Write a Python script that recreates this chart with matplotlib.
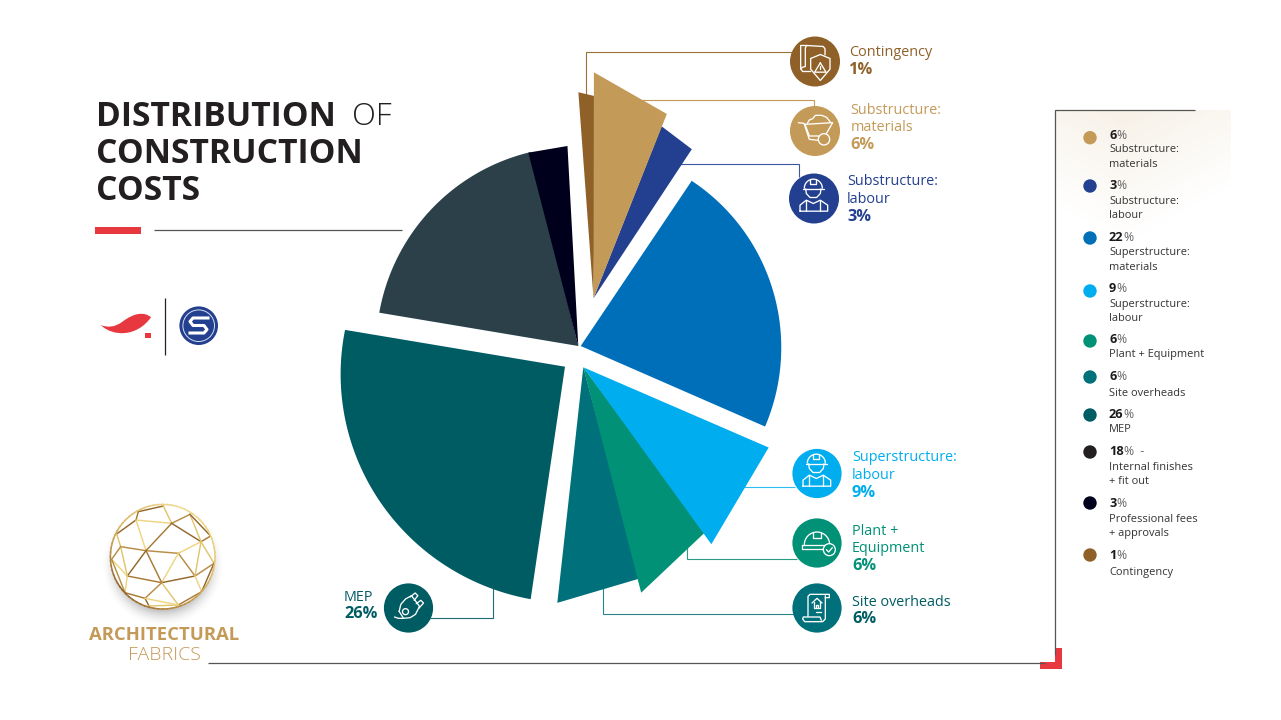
import numpy as np
import matplotlib
matplotlib.use("Agg")
import matplotlib.pyplot as plt
from matplotlib.patches import Circle, Polygon, PathPatch, Rectangle
from matplotlib.path import Path

plt.rcParams['font.family'] = ['Open Sans', 'DejaVu Sans']

# ---- data -------------------------------------------------------------
categories = ["Substructure: materials", "Substructure: labour", "Superstructure: materials",
              "Superstructure: labour", "Plant + Equipment", "Site overheads", "MEP",
              "Internal finishes + fit out", "Professional fees + approvals", "Contingency"]
shares = [6, 3, 22, 9, 6, 6, 26, 18, 3, 1]
legend_names = ["Substructure:\nmaterials", "Substructure:\nlabour", "Superstructure:\nmaterials",
                "Superstructure:\nlabour", "Plant + Equipment", "Site overheads", "MEP",
                "Internal finishes\n+ fit out", "Professional fees\n+ approvals", "Contingency"]

# ---- slice styling and geometry -----------------------------------------
slice_colors = ["#c49a58", "#233f8f", "#006fb9", "#00adef", "#009176", "#00707a",
                "#005c63", "#2b4049", "#00001c", "#8f6128"]
legend_colors = slice_colors[:7] + ["#231f20"] + slice_colors[8:]
apex_x = [593.5, 593.5, 580.7, 583.3, 583.3, 583.3, 565.0, 578.3, 578.3, 593.5]
apex_y = [298.3, 298.3, 346.0, 367.3, 367.3, 367.3, 366.7, 346.0, 346.0, 298.3]
r_start = [226, 185, 199, 202, 205, 218.6, 235, 201.8, 199.7, 206.6]
r_end = [198.4, 178.6, 201.2, 218.4, 232.7, 237, 223, 199.7, 200.3, 202]
nudge_start = [0.1, 0.0, 1.5, 1.8, -0.6, -0.6, 1.2, -1.3, -0.1, -0.6]
nudge_end = [0.1, 1.0, 2.0, 0.1, 0.0, -0.9, -1.3, 0.6, 0.5, 0.6]
flat_rim = [True, True, False, True, True, True, False, False, True, True]
draw_order = [6, 7, 8, 2, 5, 4, 3, 9, 1, 0]

GOLD = "#c49a58"
RED = "#e8383f"
RULE = "#555555"

fig = plt.figure(figsize=(12.81, 7.2), dpi=100, facecolor="white")
ax = fig.add_axes([0, 0, 1, 1])
ax.set_xlim(0, 1281)
ax.set_ylim(720, 0)
ax.axis("off")


def line(xs, ys, color=RULE, lw=0.8, z=2):
    ax.plot(xs, ys, color=color, lw=lw, zorder=z, solid_capstyle="butt", solid_joinstyle="miter")


# ---- soft panel behind the legend ---------------------------------------
yy, xx = np.mgrid[0:1:140j, 0:1:176j]
fade = np.clip(1 - yy * 1.05 - np.abs(xx - 0.4) * 0.7, 0, 1)
panel = np.zeros(fade.shape + (4,))
panel[..., :3] = matplotlib.colors.to_rgb("#f7f1e7")
panel[..., 3] = fade
ax.imshow(panel, extent=(1055, 1231, 250, 110), aspect="auto", zorder=0, interpolation="bilinear")
ax.set_xlim(0, 1281)
ax.set_ylim(720, 0)

# ---- connector lines, underneath the slices ------------------------------
line([586.3, 586.3, 792], [95, 51.5, 51.5], "#9c7138")
line([640, 814, 814], [99.7, 99.7, 108], GOLD)
line([680, 798.5, 798.5], [163.7, 163.7, 177], "#3d57a3")
line([740, 795], [486.7, 486.7], "#30bdf2")
line([686.7, 686.7, 797], [540, 559.3, 559.3], "#2a9c86")
line([603.3, 603.3, 795], [585, 613.7, 613.7], "#2a8289")
line([492.7, 492.7, 430], [585, 618.3, 618.3], "#1c6c72")

# ---- pie slices ------------------------------------------------------------
edges = np.concatenate([[0], np.cumsum(shares)]) * 3.6
for i in draw_order:
    a0, a1 = edges[i] + nudge_start[i], edges[i + 1] + nudge_end[i]
    steps = 2 if flat_rim[i] else 80
    th = np.radians(np.linspace(a0, a1, steps))
    rr = np.linspace(r_start[i], r_end[i], steps)
    xs = apex_x[i] + rr * np.sin(th)
    ys = apex_y[i] - rr * np.cos(th)
    ax.add_patch(Polygon(np.column_stack([np.r_[apex_x[i], xs], np.r_[apex_y[i], ys]]),
                         closed=True, fc=slice_colors[i], ec="none", zorder=3))

# ---- title block ------------------------------------------------------------
ink = "#231f20"
ax.text(96, 117, "DISTRIBUTION", fontsize=24.2, fontweight="bold", color=ink, va="center", ha="left")
ax.text(352, 117, "OF", fontsize=22.4, fontweight="light", color=ink, va="center", ha="left")
ax.text(96, 154, "CONSTRUCTION", fontsize=24.2, fontweight="bold", color=ink, va="center", ha="left")
ax.text(96, 191, "COSTS", fontsize=24.2, fontweight="bold", color=ink, va="center", ha="left")
ax.add_patch(Rectangle((94.5, 227.3), 46, 6.7, fc=RED, ec="none"))
line([154, 402], [229.7, 229.7], RULE, 0.9)

# ---- small marks under the title ---------------------------------------------
swoosh = Path([(100.7, 325), (113, 337), (137, 337), (151, 317.3),
               (145, 312), (135, 312), (122, 322), (115, 327), (108, 328), (100.7, 325)],
              [Path.MOVETO, Path.CURVE4, Path.CURVE4, Path.CURVE4,
               Path.CURVE4, Path.CURVE4, Path.CURVE4, Path.CURVE4, Path.CURVE4, Path.CURVE4])
ax.add_patch(PathPatch(swoosh, fc=RED, ec="none"))
ax.add_patch(Rectangle((145.3, 333.3), 5.7, 5, fc=RED, ec="none"))
line([165.3, 165.3], [298, 354.6], "#222222", 0.9)
ax.add_patch(Circle((198.7, 325.7), 19.3, fc="#233f8f", ec="none"))
ax.add_patch(Circle((198.7, 325.7), 15.8, fc="none", ec="#d8def0", lw=0.7))
ax.plot([208, 193, 190, 193, 204, 207, 204, 190],
        [318, 318, 321.5, 325.5, 325.5, 329.5, 333, 333],
        color="white", lw=2.2, solid_joinstyle="round", zorder=4)

# ---- faceted gold sphere --------------------------------------------------------
sx, sy, sr = 162.7, 556.7, 52.3
gy, gx = np.mgrid[-1:1:140j, -1:1:140j]
dist = np.hypot(gx, gy)
halo = np.zeros(dist.shape + (4,))
halo[..., :3] = 0.3
halo[..., 3] = np.clip((1 - dist) / 0.3, 0, 1) ** 1.8 * 0.42
ax.imshow(halo, extent=(sx - 62, sx + 62, sy + 70, sy - 54), aspect="auto", zorder=1, interpolation="bilinear")
ax.set_xlim(0, 1281)
ax.set_ylim(720, 0)
disc = Circle((sx, sy), sr, fc="white", ec="none", zorder=2)
ax.add_patch(disc)
v = dict(A=(205, 695), B=(280, 678), C=(360, 703), D=(305, 730), E=(198, 720), F=(140, 762),
         G=(152, 800), H=(228, 812), I=(325, 820), J=(393, 785), K=(422, 768), L=(432, 850),
         M=(375, 888), N=(275, 908), O=(172, 888), P=(125, 838), Q=(165, 938), R=(225, 955),
         S=(237, 978), T=(325, 975), U=(395, 935))
facets = ["AB", "BD", "DC", "ED", "AE", "EF", "FG", "GH", "HE", "HD", "DJ", "CJ", "HI", "IJ",
          "JK", "KC", "JL", "IM", "IN", "HN", "HO", "GO", "GP", "PO", "ON", "NM", "MJ", "ML", "MU",
          "UT", "UL", "NT", "NR", "OQ", "QR", "RS", "ST", "QP", "RT"]
golds = ["#94682c", "#e3c56f", "#b98d45", "#eed582", "#a87a35"]
for k, pair in enumerate(facets):
    (x0, y0), (x1, y1) = v[pair[0]], v[pair[1]]
    seg, = ax.plot([70 + x0 / 3, 70 + x1 / 3], [280 + y0 / 3, 280 + y1 / 3],
                   color=golds[k % len(golds)], lw=1.05, zorder=2.2)
    seg.set_clip_path(disc)
rim_colors = matplotlib.colors.LinearSegmentedColormap.from_list("rim", ["#e8cc78", "#b98d45", "#8f6128", "#d9b866", "#f0dc94", "#e8cc78"])
th = np.linspace(0, 2 * np.pi, 73)
for k in range(72):
    ax.plot(sx + sr * np.cos(th[k:k + 2]), sy + sr * np.sin(th[k:k + 2]),
            color=rim_colors(k / 72), lw=1.1, zorder=2.3)
ax.text(164.5, 634.5, "ARCHITECTURAL", fontsize=13.3, fontweight="bold", color=GOLD, ha="center", va="center")
ax.text(164, 654.5, "FABRICS", fontsize=14, fontweight="light", color=GOLD, ha="center", va="center")

# ---- frame ---------------------------------------------------------------------
line([208, 1045], [663.3, 663.3], RULE, 0.9)
line([1055, 1055, 1195], [655, 110.3, 110.3], RULE, 0.9)
ax.add_patch(Polygon([(1040, 661.7), (1055, 661.7), (1055, 647.7), (1061.7, 647.7),
                      (1061.7, 669), (1040, 669)], closed=True, fc=RED, ec="none", joinstyle="round"))


# ---- round icons ------------------------------------------------------------------
def stroke(cx, cy, pts, closed=False, lw=0.95):
    pts = np.array(pts, dtype=float)
    if closed:
        pts = np.vstack([pts, pts[0]])
    ax.plot(cx + (pts[:, 0] - 75) / 3, cy + (pts[:, 1] - 75) / 3, color="white", lw=lw,
            solid_capstyle="round", solid_joinstyle="round", zorder=5)


def ring(cx, cy, x, y, r, fc, lw=0.95):
    ax.add_patch(Circle((cx + (x - 75) / 3, cy + (y - 75) / 3), r / 3, fc=fc, ec="white", lw=lw, zorder=5))


def arc(x, y, r, a0, a1, n=24):
    t = np.radians(np.linspace(a0, a1, n))
    return np.column_stack([x + r * np.cos(t), y + r * np.sin(t)])


def scroll_shield(cx, cy, col):
    stroke(cx, cy, [(32, 27), (50, 27), (100, 30), (105, 37), (105, 55)])
    stroke(cx, cy, [(32, 27), (32, 97), (38, 105), (62, 105)])
    stroke(cx, cy, [(50, 27), (46, 34), (46, 90), (38, 92), (32, 97)])
    ax.add_patch(Polygon(np.column_stack([cx + (np.array([91, 120, 120, 91, 62, 62]) - 75) / 3,
                                          cy + (np.array([54, 66, 98, 132, 98, 66]) - 75) / 3]),
                         closed=True, fc=col, ec="white", lw=0.95, zorder=5))
    stroke(cx, cy, [(91, 79), (108, 107), (74, 107)], closed=True)
    stroke(cx, cy, [(91, 89), (91, 98)])


def barrow(cx, cy, col):
    stroke(cx, cy, [(25, 50), (42, 52), (58, 100), (85, 103)])
    stroke(cx, cy, [(45, 55), (128, 50), (105, 90), (58, 90)], closed=True)
    stroke(cx, cy, [(52, 52), (58, 42), (68, 38), (76, 28), (95, 28), (110, 34), (122, 50)])
    ring(cx, cy, 102, 100, 17, col)


def worker(cx, cy, col):
    stroke(cx, cy, arc(73, 44, 27, 180, 360))
    stroke(cx, cy, [(42, 46), (104, 46)])
    stroke(cx, cy, [(64, 17), (64, 30), (82, 30), (82, 17)])
    stroke(cx, cy, [(50, 46), (52, 60), (63, 72), (83, 72), (94, 60), (96, 46)])
    stroke(cx, cy, [(33, 113), (33, 95), (52, 80), (73, 90), (94, 80), (116, 95), (116, 113)], closed=True)
    stroke(cx, cy, [(52, 82), (52, 113)])
    stroke(cx, cy, [(94, 82), (94, 113)])


def hardhat(cx, cy, col):
    stroke(cx, cy, arc(75, 80, 38, 180, 360))
    stroke(cx, cy, [(30, 82), (112, 82), (112, 94), (30, 94)], closed=True)
    stroke(cx, cy, [(64, 44), (64, 60), (86, 60), (86, 44)])
    ring(cx, cy, 112, 95, 18, col)
    stroke(cx, cy, [(103, 95), (110, 102), (121, 89)])


def deed(cx, cy, col):
    stroke(cx, cy, [(48, 100), (48, 40), (54, 34), (112, 34), (112, 44), (100, 44)])
    stroke(cx, cy, [(100, 38), (100, 108), (92, 116), (38, 116), (32, 108), (34, 102), (84, 102), (88, 112)])
    stroke(cx, cy, [(60, 60), (75, 46), (90, 60)])
    stroke(cx, cy, [(65, 58), (65, 76), (85, 76), (85, 58)])
    stroke(cx, cy, [(72, 76), (72, 66), (79, 66), (79, 76)])
    stroke(cx, cy, [(72, 88), (88, 88)])


def plug(cx, cy, col):
    stroke(cx, cy, [(47, 85), (52, 64), (66, 48), (84, 38), (108, 70), (96, 94), (80, 104), (60, 106)], closed=True)
    ring(cx, cy, 66, 86, 9, col)
    stroke(cx, cy, [(80, 42), (95, 30), (103, 38), (92, 52)])
    stroke(cx, cy, [(98, 62), (112, 52), (120, 60), (106, 76)])
    stroke(cx, cy, [(33, 102), (45, 106), (60, 106)])


icon_spots = [(815, 61.5, 25, "#8f6128", scroll_shield), (815, 131, 25, GOLD, barrow),
              (814, 198.5, 25, "#233f8f", worker), (817, 473.5, 24.6, "#00adef", worker),
              (817, 543, 24.6, "#009176", hardhat), (817, 608, 24.6, "#00707a", deed),
              (408.5, 608, 24.6, "#005c63", plug)]
for cx, cy, r, col, glyph in icon_spots:
    ax.add_patch(Circle((cx, cy), r, fc=col, ec="none", zorder=4))
    glyph(cx, cy, col)

# ---- captions beside the icons --------------------------------------------------------
captions = [(849, [52.5], ["Contingency"], 70, 9, "#8f6128"),
            (850.5, [110.5, 127.5], ["Substructure:", "materials"], 145, 0, GOLD),
            (847, [181.5, 199.5], ["Substructure:", "labour"], 217, 1, "#233f8f"),
            (852, [457.5, 475.5], ["Superstructure:", "labour"], 493, 3, "#00adef"),
            (852, [531.5, 548.5], ["Plant +", "Equipment"], 566, 4, "#009176"),
            (852, [602.5], ["Site overheads"], 619, 5, "#005c63"),
            (344, [597.5], ["MEP"], 614, 6, "#005c63")]
for x, ys, rows, py, idx, col in captions:
    for y, row in zip(ys, rows):
        ax.text(x, y, row, fontsize=10.35, color=col, ha="left", va="center")
    ax.text(x, py, f"{shares[idx]}%", fontsize=11.8, fontweight="bold", color=col, ha="left", va="center")

# ---- legend list -------------------------------------------------------------------------
dot_y = [137.7, 186, 238, 291, 341, 377, 415, 452, 503, 555]
pct_y = [135.5, 185.5, 237.5, 288.5, 339.5, 376.5, 414.5, 451.5, 503.5, 555.5]
name_y = [150, 201, 253, 304, 355, 393, 430, 467, 519, 572]
for i in range(len(shares)):
    ax.add_patch(Circle((1090, dot_y[i]), 6.7, fc=legend_colors[i], ec="none", zorder=3))
    num = ax.text(1109, pct_y[i], str(shares[i]), fontsize=9.2, fontweight="bold", color="#1a1a1a",
                  ha="left", va="center")
    suffix = "%  -" if i == 7 else "%"
    ax.annotate(suffix, xy=(1, 0.5), xycoords=num, xytext=(0, 0), textcoords="offset points",
                fontsize=8.8, color="#666666", ha="left", va="center")
    for k, row in enumerate(legend_names[i].split("\n")):
        ax.text(1109, name_y[i] + k * 14.7, row, fontsize=7.95, color="#333333", ha="left", va="center")

fig.savefig("out.png", dpi=100, facecolor="white")
